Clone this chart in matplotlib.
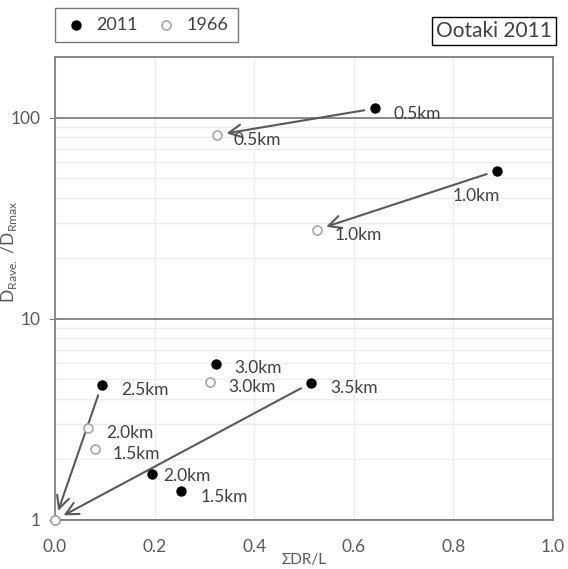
import matplotlib
matplotlib.use("Agg")
from matplotlib import pyplot as plt
from matplotlib.ticker import FixedLocator, NullFormatter

plt.rcParams['font.family'] = ['Lato', 'DejaVu Sans']

# 2011 survey
labels_2011 = ['0.5km', '1.0km', '1.5km', '2.0km', '2.5km', '3.0km', '3.5km']
x_2011 = [0.643, 0.888, 0.253, 0.195, 0.094, 0.323, 0.514]
y_2011 = [111, 54.5, 1.39, 1.69, 4.7, 5.97, 4.8]

# 1966 survey
labels_1966 = ['0.5km', '1.0km', '1.5km', '2.0km', '2.5km', '3.0km', '3.5km']
x_1966 = [0.325, 0.526, 0.080, 0.066, 0.0, 0.311, 0.0]
y_1966 = [82, 27.7, 2.26, 2.87, 1.0, 4.86, 1.0]

# which labels are drawn and where (offset in points)
off_2011 = {'0.5km': (13, -4, 'left'), '1.0km': (2, -18, 'right'), '1.5km': (14, -4, 'left'),
            '2.0km': (8, -1, 'left'), '2.5km': (14, -4, 'left'), '3.0km': (13, -3, 'left'),
            '3.5km': (14, -4, 'left')}
off_1966 = {'0.5km': (12, -4, 'left'), '1.0km': (13, -4, 'left'), '1.5km': (13, -4, 'left'),
            '2.0km': (13, -4, 'left'), '3.0km': (13, -4, 'left')}

# arrows from 2011 to 1966 for selected sections
arrow_ids = ['0.5km', '1.0km', '2.5km', '3.5km']

txt = '#404040'
fig = plt.figure(figsize=(5.68, 5.69), dpi=100)
ax = fig.add_axes([55/568, 1 - 520/569, 498/568, 463/569])

ax.set_yscale('log')
ax.set_xlim(0, 1.0)
ax.set_ylim(1, 200)

ax.scatter(x_2011, y_2011, s=42, color='black', zorder=4, label='2011', clip_on=False)
ax.scatter(x_1966, y_1966, s=42, facecolor='white', edgecolor='#a6a6a6', linewidth=1.2,
           zorder=4, label='1966', clip_on=False)

for lab, x, y in zip(labels_2011, x_2011, y_2011):
    if lab in off_2011:
        dx, dy, ha = off_2011[lab]
        ax.annotate(lab, xy=(x, y), xytext=(dx, dy), textcoords='offset points',
                    fontsize=12.5, color=txt, va='center', ha=ha, zorder=5)
for lab, x, y in zip(labels_1966, x_1966, y_1966):
    if lab in off_1966:
        dx, dy, ha = off_1966[lab]
        ax.annotate(lab, xy=(x, y), xytext=(dx, dy), textcoords='offset points',
                    fontsize=12.5, color=txt, va='center', ha=ha, zorder=5)

for lab in arrow_ids:
    i = labels_2011.index(lab)
    j = labels_1966.index(lab)
    ax.annotate('', xy=(x_1966[j], y_1966[j]), xytext=(x_2011[i], y_2011[i]),
                arrowprops=dict(arrowstyle='->,head_length=0.9,head_width=0.45',
                                color='#595959', lw=1.5, shrinkA=8, shrinkB=7),
                zorder=3)

# grid
ax.xaxis.set_major_locator(FixedLocator([0, 0.2, 0.4, 0.6, 0.8, 1.0]))
ax.yaxis.set_major_locator(FixedLocator([1, 10, 100]))
ax.yaxis.set_minor_locator(FixedLocator([k * 10**d for d in range(3) for k in range(2, 10)]))
ax.yaxis.set_minor_formatter(NullFormatter())
ax.set_yticklabels(['1', '10', '100'])
ax.set_xticklabels(['0.0', '0.2', '0.4', '0.6', '0.8', '1.0'])
ax.grid(True, which='major', axis='y', color='#808080', lw=1.3)
ax.grid(True, which='minor', axis='y', color='#ececec', lw=1.0)
ax.grid(True, which='major', axis='x', color='#ececec', lw=1.0)
ax.set_axisbelow(True)
ax.tick_params(axis='both', which='both', length=0, colors='#595959', labelsize=12.5)
ax.tick_params(axis='x', pad=14)
ax.tick_params(axis='y', which='major', length=4, color='#808080', pad=6)
for s in ax.spines.values():
    s.set_color('#808080')
    s.set_linewidth(1.3)

ax.set_xlabel(r'ΣDR/L', fontsize=11, color='#595959', labelpad=-2)
ax.set_ylabel(r'D$_{\mathregular{Rave.}}$ /D$_{\mathregular{Rmax}}$', fontsize=12.5,
              color='#595959')
ax.yaxis.set_label_coords(-0.072, 0.58)

leg = fig.legend(loc='upper left', bbox_to_anchor=(55/568, 1 - 8/569), ncol=2,
                 fontsize=13, frameon=True, fancybox=False, edgecolor='#595959',
                 handletextpad=0.5, columnspacing=0.9, borderpad=0.5, handlelength=1.3,
                 borderaxespad=0)
leg.get_frame().set_linewidth(1.0)
for t in leg.get_texts():
    t.set_color(txt)

fig.text(552/568, 1 - 31/569, 'Ootaki 2011', ha='right', va='center', fontsize=15,
         color=txt, bbox=dict(boxstyle='square,pad=0.18', facecolor='white',
                              edgecolor='black', linewidth=1.0))

plt.savefig('out.png', dpi=100)
